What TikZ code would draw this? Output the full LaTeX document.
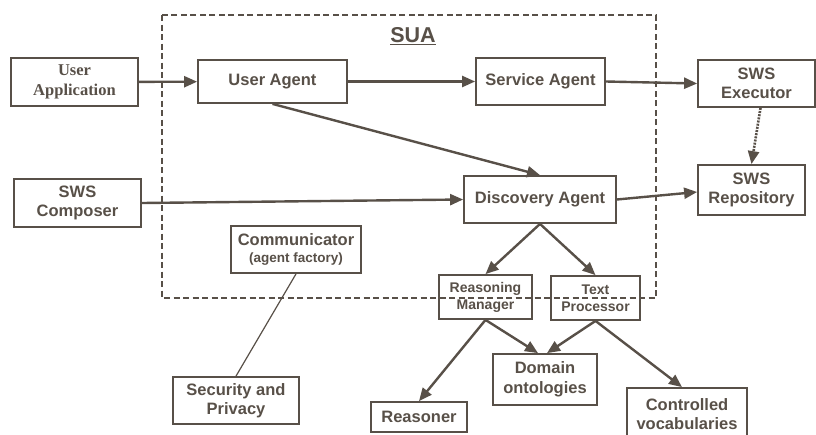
\documentclass[tikz,border=0pt]{standalone}
\usepackage{fontspec}
\setmainfont{Liberation Sans}
\newfontfamily\serifbold{Liberation Serif}
\usetikzlibrary{arrows.meta}
\definecolor{ink}{RGB}{88,80,72}
\tikzset{
  box/.style={draw=ink, line width=1.8pt, text=ink, inner sep=0pt, align=center,
    font=\fontsize{16.5}{19.5}\selectfont\bfseries},
  smallbox/.style={box, font=\fontsize{14}{17}\selectfont\bfseries},
  flow/.style={draw=ink, line width=2.4pt, -{Triangle[length=13pt,width=11pt]}},
  link/.style={draw=ink, line width=1.2pt},
  sz/.style 2 args={minimum width=#1pt, minimum height=#2pt}
}
\begin{document}
\begin{tikzpicture}[x=1pt,y=-1pt]
\clip (0,0) rectangle (816,434);
\fill[white] (0,0) rectangle (816,434);

% SUA boundary
\draw[ink, line width=1.8pt, dash pattern=on 6pt off 3.5pt] (162,15) rectangle (656,298);
\node[text=ink, font=\fontsize{21.5}{24}\selectfont\bfseries] (sua) at (413,36) {\underline{SUA}};

% components
\node[box, sz={127}{48}, font=\fontsize{16.5}{19.5}\selectfont\serifbold\bfseries] (app) at (74.5,82) {User\\Application};
\node[box, sz={149}{43}] (uag) at (272.5,81.5) {User Agent};
\node[box, sz={129}{47}] (sag) at (540.5,81.5) {Service Agent};
\node[box, sz={117}{47}] (exe) at (756.5,83.5) {SWS\\Executor};
\node[box, sz={107}{50}] (rep) at (751.5,190) {SWS\\Repository};
\node[box, sz={152}{47}] (da) at (540,199.5) {Discovery Agent};
\node[box, sz={127}{48}] (comp) at (77.5,203) {SWS\\Composer};
\node[box, sz={130}{47}] (comm) at (296,249.5) {Communicator\\[-2pt]{\fontsize{13.5}{16}\selectfont (agent factory)}};
\node[box, sz={126}{47}] (sec) at (236,400.5) {Security and\\Privacy};
\node[smallbox, sz={93}{44}] (rm) at (485.5,297) {Reasoning\\Manager};
\node[smallbox, sz={89}{44}] (tp) at (595.5,298) {Text\\Processor};
\node[box, sz={104}{51}] (dom) at (545,379.5) {Domain\\ontologies};
\node[box, sz={96}{30}] (rea) at (419,417) {Reasoner};
\node[box, sz={120}{52}] (cv) at (687,414) {Controlled\\vocabularies};

% connectors
\draw[flow] (app) -- (uag);
\draw[flow] (uag) -- (sag);
\draw[flow] (sag.east) -- (exe.west);
\draw[flow] (uag.south) -- (da.north);
\draw[flow] (comp.east) -- (da.west);
\draw[flow] (da.east) -- ([yshift=-2pt]rep.west);
\draw[flow, line width=2.6pt, dash pattern=on 2pt off 1.2pt] ([xshift=4pt]exe.south) -- (rep.north);
\draw[flow] (da.south) -- (rm.north);
\draw[flow] (da.south) -- (tp.north);
\draw[flow] (rm.south) -- (rea.north);
\draw[flow] (rm.south) -- ([xshift=-7pt]dom.north);
\draw[flow] (tp.south) -- ([xshift=2pt]dom.north);
\draw[flow] (tp.south) -- ([xshift=-5pt]cv.north);
\draw[link] (comm.south) -- (sec.north);
\end{tikzpicture}
\end{document}
